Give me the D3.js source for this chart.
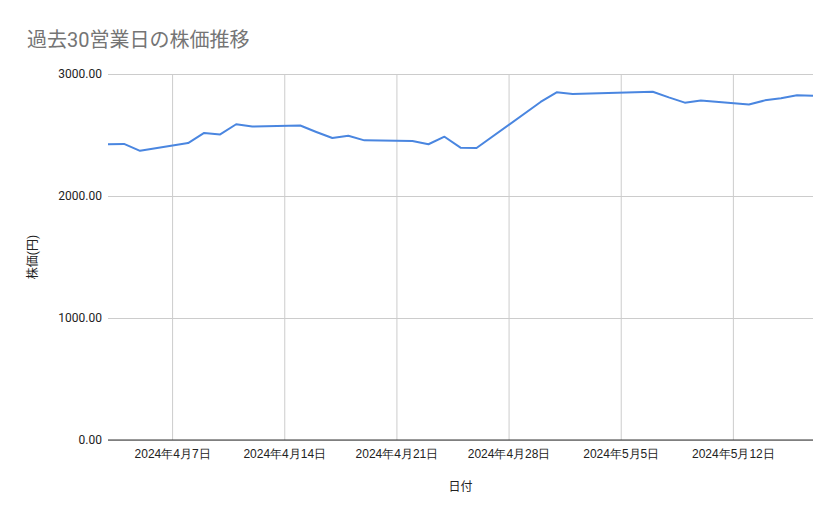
<!DOCTYPE html>
<html>
<head>
<meta charset="utf-8">
<script src="https://cdnjs.cloudflare.com/ajax/libs/d3/7.8.5/d3.min.js"></script>
<style>
  html, body { margin: 0; padding: 0; background: #fff; }
  svg { display: block; font-family: Roboto, "Noto Sans CJK JP", sans-serif; }
</style>
</head>
<body>
<svg id="chart" width="839" height="519"></svg>
<script>
// 営業日と終値
const dates = [
  "2024-04-03", "2024-04-04", "2024-04-05", "2024-04-08", "2024-04-09",
  "2024-04-10", "2024-04-11", "2024-04-12", "2024-04-15", "2024-04-16",
  "2024-04-17", "2024-04-18", "2024-04-19", "2024-04-22", "2024-04-23",
  "2024-04-24", "2024-04-25", "2024-04-26", "2024-04-30", "2024-05-01",
  "2024-05-02", "2024-05-07", "2024-05-08", "2024-05-09", "2024-05-10",
  "2024-05-13", "2024-05-14", "2024-05-15", "2024-05-16", "2024-05-17"
];
const prices = [
  2424, 2427, 2370, 2434, 2517,
  2505, 2588, 2570, 2578, 2525,
  2475, 2494, 2456, 2450, 2424,
  2486, 2396, 2393, 2771, 2850,
  2836, 2855, 2808, 2765, 2783,
  2750, 2784, 2802, 2825, 2822
];
const xTicks = ["2024-04-07", "2024-04-14", "2024-04-21", "2024-04-28", "2024-05-05", "2024-05-12"];
const yTicks = [0, 1000, 2000, 3000];

const chartTitle = "過去30営業日の株価推移";
const xTitle = "日付";
const yTitle = "株価(円)";

const parse = d3.timeParse("%Y-%m-%d");
const data = dates.map((d, i) => ({ date: parse(d), value: prices[i] }));

const svg = d3.select("#chart");
const margin = { top: 74, right: 26, bottom: 79, left: 108 };
const width = 839 - margin.left - margin.right;
const height = 519 - margin.top - margin.bottom;

const x = d3.scaleTime()
  .domain(d3.extent(data, d => d.date))
  .range([0, width]);
const y = d3.scaleLinear()
  .domain([0, 3000])
  .range([height, 0]);

svg.append("text")
  .attr("x", 27).attr("y", 47)
  .attr("font-size", 20)
  .attr("fill", "#757575")
  .text(chartTitle);

const g = svg.append("g").attr("transform", `translate(${margin.left},${margin.top})`);

// 横グリッドと y ラベル
const yAxis = g.append("g")
  .call(d3.axisLeft(y).tickValues(yTicks).tickFormat(d3.format(".2f")).tickSize(-width).tickPadding(6));
yAxis.select(".domain").remove();
yAxis.selectAll(".tick line").attr("stroke", "#cccccc");
yAxis.selectAll(".tick text").attr("font-size", 12).attr("fill", "#222").attr("font-family", "Roboto");

// 縦グリッドと x ラベル
const xAxis = g.append("g")
  .attr("transform", `translate(0,${height})`)
  .call(d3.axisBottom(x).tickValues(xTicks.map(parse))
    .tickFormat(d3.timeFormat("%Y年%-m月%-d日")).tickSize(-height).tickPadding(9));
xAxis.select(".domain").remove();
xAxis.selectAll(".tick line").attr("stroke", "#cccccc");
xAxis.selectAll(".tick text").attr("font-size", 12).attr("fill", "#222");

// ゼロの基準線
g.append("line")
  .attr("x1", 0).attr("x2", width)
  .attr("y1", y(0)).attr("y2", y(0))
  .attr("stroke", "#333").attr("stroke-width", 1);

const line = d3.line()
  .x(d => x(d.date))
  .y(d => y(d.value));

g.append("path")
  .datum(data)
  .attr("fill", "none")
  .attr("stroke", "#4a86e0")
  .attr("stroke-width", 2)
  .attr("stroke-linejoin", "round")
  .attr("d", line);

svg.append("text")
  .attr("x", margin.left + width / 2).attr("y", 491)
  .attr("text-anchor", "middle")
  .attr("font-size", 12).attr("fill", "#222")
  .text(xTitle);

svg.append("text")
  .attr("transform", `translate(37,${margin.top + height / 2}) rotate(-90)`)
  .attr("text-anchor", "middle")
  .attr("font-size", 12).attr("fill", "#222")
  .text(yTitle);
</script>
</body>
</html>
